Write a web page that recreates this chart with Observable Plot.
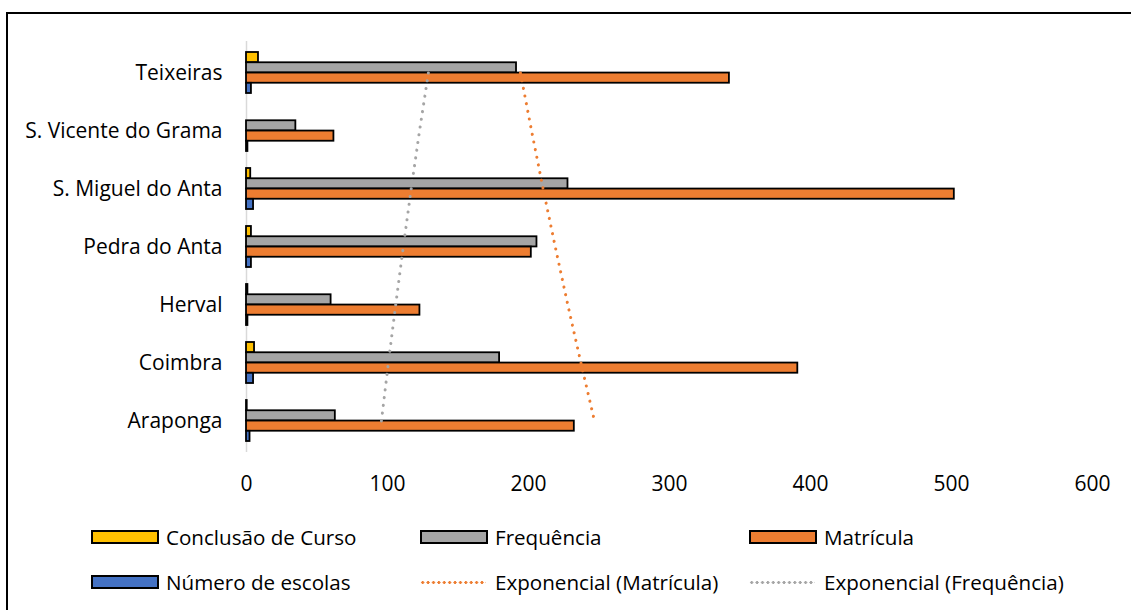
<!DOCTYPE html>
<html>
<head>
<meta charset="utf-8">
<script src="https://cdn.jsdelivr.net/npm/d3@7"></script>
<script src="https://cdn.jsdelivr.net/npm/@observablehq/plot@0.6"></script>
<style>
  html, body { margin: 0; padding: 0; background: #fff; overflow: hidden; width: 1131px; height: 610px; }
  body { position: relative; font-family: "Open Sans", Lato, sans-serif; }
  #frame { position: absolute; left: 6px; top: 12px; width: 1300px; height: 800px; border: 2px solid #000; box-sizing: border-box; }
  #chart { position: absolute; left: 0; top: 0; }
  .leg { position: absolute; display: flex; align-items: center; font-size: 20.6px; color: #000; white-space: nowrap; }
  .sw { width: 68px; height: 14px; box-sizing: border-box; border: 2px solid #000; margin-right: 7px; }
  .ln { width: 66px; height: 3px; margin-right: 9px; }
</style>
</head>
<body>
<div id="frame"></div>
<div id="chart"></div>
<div id="legend"></div>
<script>
const categories = ["Teixeiras", "S. Vicente do Grama", "S. Miguel do Anta", "Pedra do Anta", "Herval", "Coimbra", "Araponga"];
const conclusao   = [8.5, 0, 3, 3.5, 1, 5.7, 0.5];
const frequencia  = [191.5, 35, 228, 206, 60, 179.5, 63];
const matricula   = [342.5, 62, 502, 202, 123, 391, 232.5];
const escolas     = [3.5, 1, 5, 3.5, 1, 5, 2.5];
const trendMatricula  = [194.3, 202.2, 210.4, 219.0, 227.9, 237.2, 246.8];
const trendFrequencia = [129, 122.7, 116.8, 111.2, 105.8, 100.6, 95.7];
const xTicks = [0, 100, 200, 300, 400, 500, 600];

const seriesNames = ["Conclusão de Curso", "Frequência", "Matrícula", "Número de escolas"];
const seriesValues = [conclusao, frequencia, matricula, escolas];
const seriesColors = ["#FFC000", "#A5A5A5", "#ED7D31", "#4472C4"];
const trendNames = ["Exponencial (Matrícula)", "Exponencial (Frequência)"];
const trendColors = ["#ED7D31", "#A5A5A5"];

const rows = (vals) => categories.map((c, i) => ({category: c, value: vals[i]}));

const marginTop = 41, marginBottom = 58, height = 510;
const paddingInner = 0.3, paddingOuter = 0.15;
const step = (height - marginTop - marginBottom) / (categories.length - paddingInner + 2 * paddingOuter);
const bw = step * (1 - paddingInner);
const h = bw / 4;

const marks = [
  Plot.ruleX([0], {stroke: "#D9D9D9", strokeWidth: 1.5})
];
seriesValues.forEach((vals, k) => {
  marks.push(Plot.barX(rows(vals), {
    x: "value", y: "category", fill: seriesColors[k],
    stroke: "#000", strokeWidth: 1.8,
    insetTop: k * h, insetBottom: (3 - k) * h
  }));
});
[trendMatricula, trendFrequencia].forEach((vals, k) => {
  marks.push(Plot.lineX(rows(vals), {
    x: "value", y: "category", stroke: trendColors[k],
    strokeWidth: 3, strokeDasharray: "0.1,7.7", strokeLinecap: "round"
  }));
});

const chart = Plot.plot({
  width: 1131,
  height,
  marginTop,
  marginBottom,
  marginLeft: 246,
  marginRight: 39,
  style: {fontSize: "21px", fontFamily: "'Open Sans', Lato, sans-serif", color: "#000", background: "transparent", overflow: "visible"},
  x: {domain: [0, 600], ticks: xTicks, tickSize: 0, tickPadding: 24, label: null},
  y: {domain: categories, paddingInner, paddingOuter, tickSize: 0, tickPadding: 24, label: null},
  marks
});
document.getElementById("chart").appendChild(chart);

// legend
const legend = document.getElementById("legend");
const cols = [91, 420, 749];
const rowsY = [537, 582];
const items = [
  ...seriesNames.map((n, i) => ({name: n, type: "box", color: seriesColors[i]})),
  ...trendNames.map((n, i) => ({name: n, type: "line", color: trendColors[i]}))
];
items.forEach((it, i) => {
  const d = document.createElement("div");
  d.className = "leg";
  d.style.left = cols[i % 3] + "px";
  d.style.top = (rowsY[Math.floor(i / 3)] - 15) + "px";
  d.style.height = "30px";
  const s = document.createElement("span");
  if (it.type === "box") {
    s.className = "sw";
    s.style.background = it.color;
  } else {
    s.className = "ln";
    s.style.backgroundImage = `radial-gradient(circle, ${it.color} 1.3px, transparent 1.7px)`;
    s.style.backgroundSize = "5.4px 3px";
    s.style.backgroundRepeat = "repeat-x";
  }
  d.appendChild(s);
  const t = document.createElement("span");
  t.textContent = it.name;
  d.appendChild(t);
  legend.appendChild(d);
});
</script>
</body>
</html>
